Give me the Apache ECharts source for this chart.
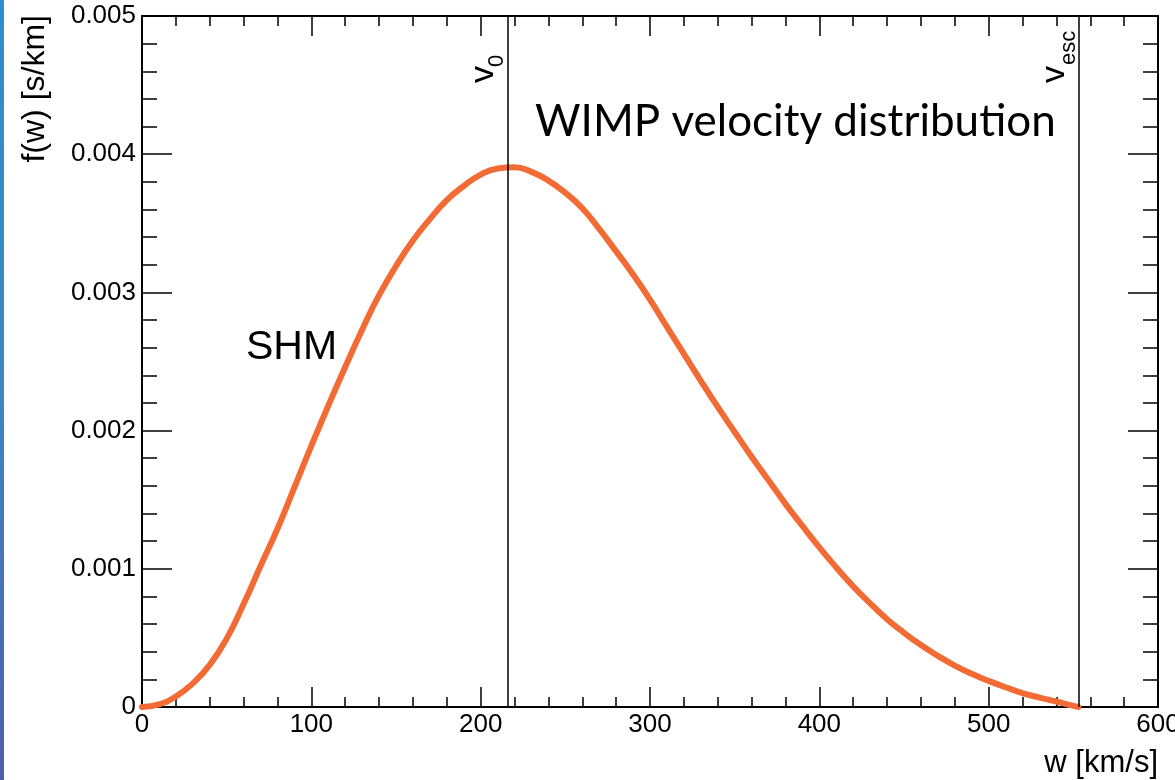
<!DOCTYPE html>
<html><head><meta charset="utf-8">
<script src="https://cdn.jsdelivr.net/npm/echarts@6/dist/echarts.min.js"></script>
<style>
html,body{margin:0;padding:0;background:#fff;}
#c{width:1175px;height:780px;position:absolute;left:0;top:0;}
#strip{position:absolute;left:0;top:0;width:4px;height:780px;background:linear-gradient(#2f8fca,#3d86c4 50%,#4f5db0);z-index:2;}
</style>
</head><body><div id="c"></div><div id="strip"></div>
<script>
// Data
const wValues = [0, 10, 20, 30, 40, 50, 60, 70, 80, 90, 100, 110, 120, 130, 140, 150, 160, 170, 180, 190, 200, 210, 220, 230, 240, 250, 260, 270, 280, 290, 300, 310, 320, 330, 340, 350, 360, 370, 380, 390, 400, 410, 420, 430, 440, 450, 460, 470, 480, 490, 500, 510, 520, 530, 540, 550, 553];
const fValues = [0, 0.000019, 0.000076, 0.000171, 0.000305, 0.000495, 0.000745, 0.00102, 0.00129, 0.00159, 0.00189, 0.00218, 0.00246, 0.00273, 0.00298, 0.00319, 0.003375, 0.00353, 0.003668, 0.00377, 0.003852, 0.003897, 0.003905, 0.003872, 0.003809, 0.00372, 0.003609, 0.00346, 0.003297, 0.00313, 0.002948, 0.00275, 0.002555, 0.00236, 0.002171, 0.00199, 0.001811, 0.00164, 0.00147, 0.00131, 0.001155, 0.00101, 0.000873, 0.00075, 0.000635, 0.000537, 0.000448, 0.00037, 0.0003, 0.00024, 0.000189, 0.000143, 0.000101, 0.000068, 0.00004, 0.000008, 0];
const markerNames = ['0', 'esc'];
const markerValues = [216, 553];
const xTickValues = [0, 100, 200, 300, 400, 500, 600];
const yTickValues = [0, 0.001, 0.002, 0.003, 0.004, 0.005];
const xTitle = 'w [km/s]';
const yTitle = 'f(w) [s/km]';
const plotTitle = 'WIMP velocity distribution';
const curveLabel = 'SHM';

const chart = echarts.init(document.getElementById('c'), null, {renderer: 'canvas'});
const black = '#000';
const tickFont = {color: black, fontSize: 26, fontFamily: 'Liberation Sans, Arial, sans-serif'};
function xAx(pos, showLabel) {
  return {
    type: 'value', position: pos, min: xTickValues[0], max: xTickValues[xTickValues.length - 1],
    interval: xTickValues[1] - xTickValues[0],
    axisLine: {show: true, onZero: false, lineStyle: {color: black, width: 2}},
    axisTick: {show: true, inside: true, length: 20, lineStyle: {color: black, width: 1.5}},
    minorTick: {show: true, splitNumber: 5, length: 10, lineStyle: {color: black, width: 1.5}},
    axisLabel: Object.assign({show: showLabel, margin: 5, hideOverlap: false}, tickFont),
    splitLine: {show: false}
  };
}
function yAx(pos, showLabel) {
  return {
    type: 'value', position: pos, min: yTickValues[0], max: yTickValues[yTickValues.length - 1],
    interval: yTickValues[1] - yTickValues[0],
    axisLine: {show: true, onZero: false, lineStyle: {color: black, width: 2}},
    axisTick: {show: true, inside: true, length: 30, lineStyle: {color: black, width: 1.5}},
    minorTick: {show: true, splitNumber: 5, length: 15, lineStyle: {color: black, width: 1.5}},
    axisLabel: Object.assign({show: showLabel, margin: 6, formatter: v => String(+v.toFixed(4))}, tickFont),
    splitLine: {show: false}
  };
}
chart.setOption({
  animation: false,
  backgroundColor: '#fff',
  grid: {left: 142, right: 17, top: 16, bottom: 73, containLabel: false, outerBoundsMode: 'none'},
  xAxis: [xAx('bottom', true), xAx('top', false)],
  yAxis: [yAx('left', true), yAx('right', false)],
  series: [{
    type: 'line', xAxisIndex: 0, yAxisIndex: 0,
    data: wValues.map((w, i) => [w, fValues[i]]),
    smooth: 0.5, smoothMonotone: 'none', showSymbol: false, symbol: 'none',
    lineStyle: {color: '#F26B35', width: 6, cap: 'round', join: 'round'},
    markLine: {
      silent: true, symbol: ['none', 'none'],
      lineStyle: {color: black, width: 1.5, type: 'solid'},
      label: {show: false},
      data: markerValues.map(v => ({xAxis: v}))
    },
    z: 3
  }]
});

const g = [];
const gx = v => chart.convertToPixel({xAxisIndex: 0}, v);
// marker labels (rotated, with subscript)
markerValues.forEach((v, i) => {
  const lx = gx(v);
  g.push({type: 'text', x: lx - 24, y: 83, rotation: Math.PI / 2,
    style: {text: 'v', fontSize: 34, fontFamily: 'Liberation Sans, Arial', fill: black, align: 'left', verticalAlign: 'middle'}});
  g.push({type: 'text', x: lx - (i === 0 ? 11 : 9), y: i === 0 ? 67 : 65, rotation: Math.PI / 2,
    style: {text: markerNames[i], fontSize: 22, fontFamily: 'Liberation Sans, Arial', fill: black, align: 'left', verticalAlign: 'middle'}});
});
g.push({type: 'text', x: 535, y: 122,
  style: {text: plotTitle, fontSize: 44, fontFamily: 'Lato, sans-serif', fill: black, align: 'left', verticalAlign: 'middle'}});
g.push({type: 'text', x: 246, y: 348,
  style: {text: curveLabel, fontSize: 41, fontFamily: 'Liberation Sans, Arial', fill: black, align: 'left', verticalAlign: 'middle'}});
g.push({type: 'text', x: 1158, y: 763,
  style: {text: xTitle, fontSize: 31, fontFamily: 'Liberation Sans, Arial', fill: black, align: 'right', verticalAlign: 'middle'}});
g.push({type: 'text', x: 35, y: 15, rotation: Math.PI / 2,
  style: {text: yTitle, fontSize: 32, fontFamily: 'Liberation Sans, Arial', fill: black, align: 'right', verticalAlign: 'middle'}});
chart.setOption({graphic: g});
</script>
</body></html>
